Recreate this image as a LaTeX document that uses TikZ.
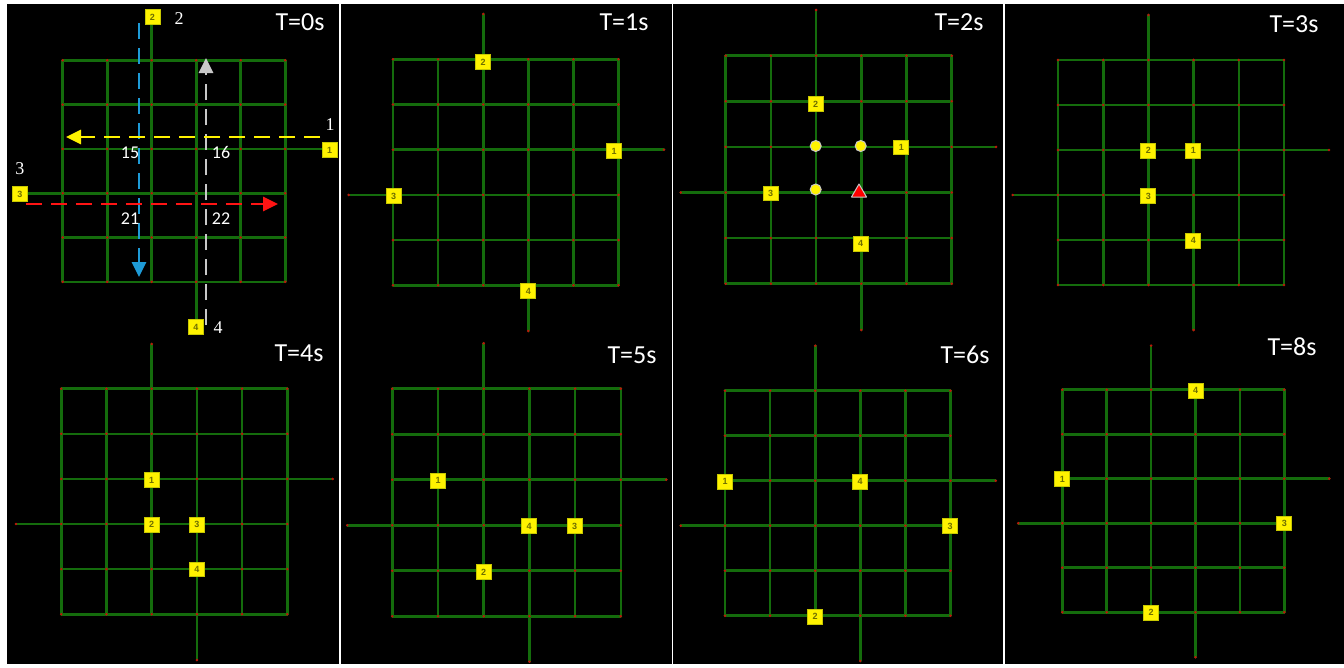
\documentclass[tikz,border=0pt]{standalone}
\usepackage{fontspec}
\setmainfont{Carlito}
\newfontfamily\serifnum{Liberation Serif}
\newfontfamily\labfont{Liberation Sans}
\usetikzlibrary{arrows.meta}
\definecolor{gridg}{RGB}{20,108,12}
\definecolor{dotr}{RGB}{190,20,10}
\definecolor{labtext}{RGB}{110,110,0}
\definecolor{labedge}{RGB}{200,200,0}
\definecolor{arrblue}{RGB}{30,155,215}
\definecolor{arrgray}{RGB}{200,200,200}
\definecolor{arrred}{RGB}{255,20,20}
\tikzset{
 gridline/.style={gridg, line width=2.6pt, line cap=round},
 reddot/.style={fill=dotr},
 lab/.style={draw=labedge, line width=0.8pt, fill=yellow, minimum width=15pt, minimum height=14.5pt, inner sep=0pt, font=\labfont\bfseries\fontsize{9}{9}\selectfont, text=labtext},
 ttl/.style={anchor=base, text=white, font=\fontsize{26}{26}\selectfont, inner sep=0pt},
 cell/.style={text=white, font=\fontsize{18}{18}\selectfont, inner sep=0pt},
 dirnum/.style={text=white, font=\serifnum\fontsize{18}{18}\selectfont, inner sep=0pt},
 mv/.style={dash pattern=on 16pt off 9pt, line width=2.8pt, -{Triangle[length=15pt,width=14pt]}},
 spot/.style={circle, fill=yellow, draw=arrgray, line width=1pt, minimum size=11pt, inner sep=0pt}
}
\newcommand{\gridpanel}[8]{%
 \begin{scope}[shift={(#1,#2)}]
  \foreach \k in {0,...,5}{
   \draw[gridline] (\k*#3,0) -- (\k*#3,5*#4);
   \draw[gridline] (0,\k*#4) -- (5*#3,\k*#4);
  }
  \draw[gridline] (2*#3,0) -- (2*#3,#5-#2);
  \draw[gridline] (3*#3,5*#4) -- (3*#3,#6-#2);
  \draw[gridline] (5*#3,2*#4) -- (#7-#1,2*#4);
  \draw[gridline] (0,3*#4) -- (#8-#1,3*#4);
  \foreach \k in {0,...,5}{\foreach \m in {0,...,5}{\fill[reddot] (\k*#3,\m*#4) circle (1.4pt);}}
  \fill[reddot] (2*#3,#5-#2) circle (1.4pt) (3*#3,#6-#2) circle (1.4pt) (#7-#1,2*#4) circle (1.4pt) (#8-#1,3*#4) circle (1.4pt);
 \end{scope}}
\begin{document}
\begin{tikzpicture}[x=1pt,y=-1pt]
\useasboundingbox (0,0) rectangle (1344,667);
\fill[white] (0,0) rectangle (1344,667);
\fill[black] (7,4) rectangle (1344,664);
\draw[white, line width=1.2pt] (340,4) -- (340,664) (672.5,4) -- (672.5,664) (1004,4) -- (1004,664);

% grids
\gridpanel{62.7}{60.3}{44.5}{44.3}{17}{326}{328}{20}
\gridpanel{393}{59.3}{45.1}{45.2}{14}{331}{664}{348.7}
\gridpanel{725.7}{55.7}{45.2}{45.6}{10}{330}{996}{680.7}
\gridpanel{1058}{60}{45.2}{45}{15}{330}{1329}{1012.7}
\gridpanel{61.3}{388.7}{45.2}{45.1}{344}{660}{332.7}{16}
\gridpanel{392.3}{388.7}{45.7}{45.5}{343.3}{661.7}{666.3}{347.3}
\gridpanel{725}{390.7}{45.1}{45}{345.7}{661}{995.7}{680.7}
\gridpanel{1062.3}{389.7}{44.4}{44.5}{345.7}{657.3}{1329.3}{1018.3}

% panel 1 movement arrows
\coordinate (bs) at (139,23);  \coordinate (be) at (139,277);
\coordinate (gs) at (206,325); \coordinate (ge) at (206,58);
\coordinate (ys) at (320,137); \coordinate (ye) at (66,137);
\coordinate (rs) at (26,204);  \coordinate (re) at (278,204);
\draw[mv, arrblue] (bs) -- (be);
\draw[mv, arrgray] (gs) -- (ge);
\draw[mv, yellow] (ys) -- (ye);
\draw[mv, arrred] (rs) -- (re);

% panel 1 texts
\node[ttl] (t0) at (300,30.5) {T=0s};
\node[cell] (c15) at (130,152.5) {15};
\node[cell] (c16) at (221,152.5) {16};
\node[cell] (c21) at (130,219) {21};
\node[cell] (c22) at (221,219) {22};
\node[dirnum] (d2) at (179,19) {2};
\node[dirnum] (d1) at (330,124.5) {1};
\node[dirnum] (d3) at (20,168.5) {3};
\node[dirnum] (d4) at (218,327.5) {4};
\node[lab] (a1) at (329.5,150) {1};
\node[lab] (a2) at (152.5,17) {2};
\node[lab] (a3) at (20,194) {3};
\node[lab] (a4) at (196,327) {4};

% panel 2
\node[ttl] (t1) at (624,30) {T=1s};
\node[lab] (b1) at (614,151) {1};
\node[lab] (b2) at (483,62) {2};
\node[lab] (b3) at (393.7,196) {3};
\node[lab] (b4) at (528.3,291) {4};

% panel 3
\node[ttl] (t2) at (959,30.7) {T=2s};
\node[spot] (s1) at (815.7,146) {};
\node[spot] (s2) at (860.7,146) {};
\node[spot] (s3) at (815.7,189.5) {};
\draw[fill=red, draw=arrgray, line width=1pt, line join=round] (851.5,197) -- (859,184) -- (866.5,197) -- cycle;
\node[lab] (e1) at (901.3,147.3) {1};
\node[lab] (e2) at (815.7,104) {2};
\node[lab] (e3) at (770.7,193.3) {3};
\node[lab] (e4) at (860.7,243.7) {4};

% panel 4
\node[ttl] (t3) at (1294,32.3) {T=3s};
\node[lab] (f1) at (1193.3,150.7) {1};
\node[lab] (f2) at (1148.3,150.7) {2};
\node[lab] (f3) at (1148.3,196) {3};
\node[lab] (f4) at (1193.3,240.7) {4};

% panel 5
\node[ttl] (t4) at (299,361.7) {T=4s};
\node[lab] (g1) at (151.7,480) {1};
\node[lab] (g2) at (151.7,524.7) {2};
\node[lab] (g3) at (197,524.7) {3};
\node[lab] (g4) at (197,569.3) {4};

% panel 6
\node[ttl] (t5) at (632,363.3) {T=5s};
\node[lab] (h1) at (438,480.7) {1};
\node[lab] (h2) at (483.7,572) {2};
\node[lab] (h3) at (574.7,526) {3};
\node[lab] (h4) at (529,526) {4};

% panel 7
\node[ttl] (t6) at (965,363.3) {T=6s};
\node[lab] (i1) at (725,481.7) {1};
\node[lab] (i2) at (815,616.7) {2};
\node[lab] (i3) at (950,526) {3};
\node[lab] (i4) at (860,481.7) {4};

% panel 8
\node[ttl] (t8) at (1292,355) {T=8s};
\node[lab] (j1) at (1062.3,479) {1};
\node[lab] (j2) at (1151,612.7) {2};
\node[lab] (j3) at (1284.3,523.3) {3};
\node[lab] (j4) at (1195.7,390.7) {4};
\end{tikzpicture}
\end{document}
